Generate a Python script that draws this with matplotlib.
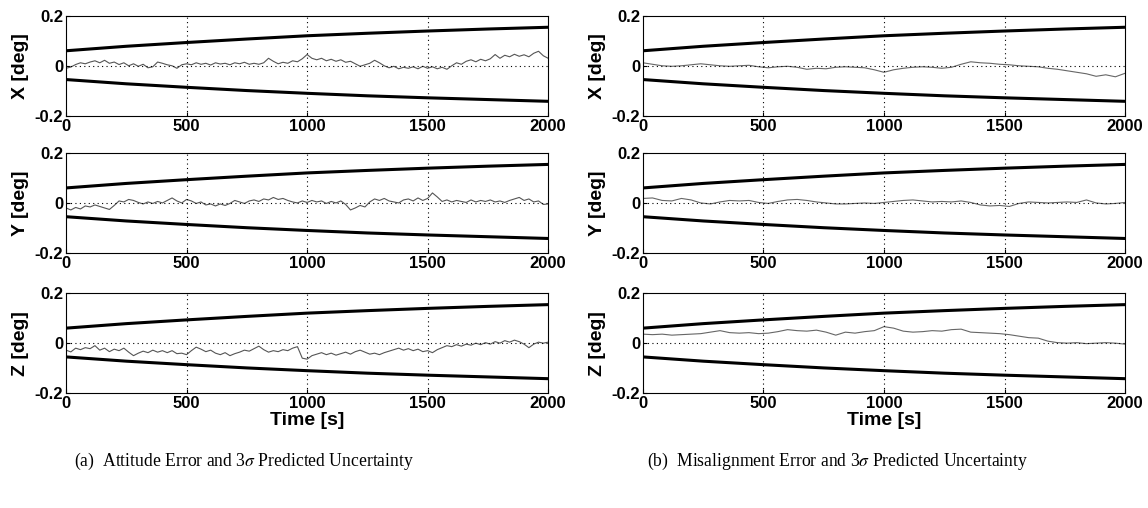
import numpy as np
import matplotlib
matplotlib.use("Agg")
import matplotlib.pyplot as plt

plt.rcParams['font.family'] = ['Liberation Sans', 'DejaVu Sans']
plt.rcParams['mathtext.fontset'] = 'stix'

# time grids (s)
t_fast = np.arange(0, 2001, 20)
t_slow = np.arange(0, 2001, 40)
t_bound = [0, 250, 500, 750, 1000, 1250, 1500, 1750, 2000]

# 3-sigma predicted bounds (deg)
sig_upper = [0.06, 0.078, 0.093, 0.107, 0.12, 0.13, 0.139, 0.147, 0.154]
sig_lower = [-0.055, -0.072, -0.086, -0.099, -0.11, -0.12, -0.128, -0.135, -0.142]

# (a) attitude error, every 20 s
att_x = [-0.01, -0.005, 0.005, 0.012, 0.008, 0.015, 0.02, 0.012, 0.022, 0.01,
         0.015, 0.005, 0.012, 0.0, 0.008, -0.002, 0.006, -0.008, -0.004, 0.015,
         0.01, 0.004, 0.0, -0.01, 0.004, 0.008, 0.004, 0.012, 0.006, 0.01,
         0.003, 0.012, 0.007, 0.01, 0.004, 0.012, 0.008, 0.014, 0.006, 0.01,
         0.006, 0.012, 0.03, 0.018, 0.008, 0.014, 0.01, 0.02, 0.016, 0.028,
         0.045, 0.03, 0.024, 0.03, 0.02, 0.026, 0.018, 0.024, 0.014, 0.018,
         0.008, -0.002, 0.004, 0.01, 0.022, 0.012, 0.0, -0.008, -0.002, -0.012,
         -0.006, -0.01, -0.004, -0.012, -0.002, -0.01, -0.004, -0.012, -0.006, -0.014,
         0.0, 0.012, 0.006, 0.018, 0.024, 0.016, 0.026, 0.02, 0.028, 0.045,
         0.03, 0.042, 0.036, 0.046, 0.038, 0.044, 0.036, 0.05, 0.058, 0.04,
         0.03]
att_y = [-0.02, -0.028, -0.018, -0.024, -0.012, -0.016, -0.008, -0.014, -0.02, -0.026,
         -0.01, 0.008, 0.004, 0.014, 0.01, 0.002, -0.004, 0.004, -0.002, 0.006,
         0.0, 0.01, 0.02, 0.008, 0.0, 0.014, 0.008, -0.002, 0.004, -0.008,
         -0.004, -0.012, -0.004, -0.01, -0.002, 0.01, 0.004, -0.002, 0.008, 0.012,
         0.006, 0.016, 0.012, 0.022, 0.014, 0.018, 0.01, 0.004, 0.0, 0.008,
         0.002, 0.01, 0.004, 0.008, -0.002, 0.006, 0.0, 0.008, -0.006, -0.028,
         -0.02, -0.01, -0.016, 0.004, 0.016, 0.01, 0.018, 0.008, 0.004, 0.0,
         0.012, 0.016, 0.008, 0.02, 0.01, 0.018, 0.04, 0.024, 0.006, 0.012,
         0.004, 0.01, 0.006, 0.002, 0.012, 0.004, 0.01, 0.006, 0.012, 0.004,
         0.008, 0.002, 0.01, 0.016, 0.022, 0.01, 0.016, 0.004, 0.008, -0.006,
         -0.004]
att_z = [-0.028, -0.035, -0.02, -0.026, -0.018, -0.022, -0.01, -0.028, -0.02, -0.034,
         -0.024, -0.03, -0.02, -0.036, -0.05, -0.04, -0.032, -0.038, -0.028, -0.036,
         -0.03, -0.038, -0.03, -0.042, -0.04, -0.046, -0.03, -0.016, -0.024, -0.034,
         -0.028, -0.04, -0.046, -0.038, -0.05, -0.042, -0.036, -0.028, -0.032, -0.022,
         -0.012, -0.026, -0.036, -0.03, -0.034, -0.026, -0.03, -0.02, -0.014, -0.06,
         -0.064, -0.05, -0.044, -0.038, -0.046, -0.04, -0.048, -0.042, -0.036, -0.044,
         -0.034, -0.028, -0.036, -0.044, -0.04, -0.046, -0.038, -0.032, -0.026, -0.02,
         -0.028, -0.022, -0.03, -0.024, -0.034, -0.03, -0.038, -0.026, -0.018, -0.01,
         -0.014, -0.006, -0.012, -0.004, -0.008, 0.0, -0.006, 0.002, -0.004, 0.006,
         0.0, 0.01, 0.004, 0.012, 0.006, -0.004, -0.018, -0.004, 0.004, 0.0,
         0.004]

# (b) misalignment error, every 40 s
mis_x = [0.012, 0.006, 0.0, -0.002, 0.0, 0.004, 0.008, 0.004, 0.0, -0.002,
         0.0, 0.002, -0.004, -0.008, -0.004, -0.002, -0.006, -0.014, -0.01, -0.012,
         -0.006, -0.004, -0.006, -0.008, -0.016, -0.026, -0.016, -0.01, -0.006, -0.004,
         -0.006, -0.01, -0.006, 0.006, 0.016, 0.012, 0.01, 0.006, 0.004, 0.0,
         -0.002, -0.004, -0.01, -0.014, -0.02, -0.026, -0.032, -0.042, -0.036, -0.044,
         -0.03]
mis_y = [0.018, 0.02, 0.01, 0.008, 0.018, 0.012, 0.0, -0.004, 0.004, 0.01,
         0.008, 0.01, 0.002, -0.002, 0.006, 0.012, 0.014, 0.01, 0.004, 0.0,
         -0.004, -0.004, -0.002, 0.0, -0.002, 0.002, 0.006, 0.01, 0.012, 0.008,
         0.004, 0.006, 0.004, 0.008, 0.002, -0.008, -0.012, -0.01, -0.014, -0.002,
         0.004, 0.002, 0.0, 0.002, 0.004, 0.002, 0.012, 0.0, -0.004, -0.002,
         0.002]
mis_z = [0.036, 0.034, 0.036, 0.032, 0.034, 0.036, 0.038, 0.044, 0.05, 0.042,
         0.04, 0.042, 0.038, 0.04, 0.046, 0.054, 0.05, 0.048, 0.052, 0.044,
         0.032, 0.044, 0.04, 0.046, 0.05, 0.066, 0.06, 0.048, 0.044, 0.046,
         0.05, 0.048, 0.054, 0.056, 0.044, 0.042, 0.04, 0.038, 0.034, 0.028,
         0.022, 0.02, 0.008, 0.002, 0.0, 0.002, -0.002, 0.0, 0.002, 0.0,
         -0.004]

axis_labels = ['X [deg]', 'Y [deg]', 'Z [deg]']
captions = [r'(a)  Attitude Error and 3$\sigma$ Predicted Uncertainty',
            r'(b)  Misalignment Error and 3$\sigma$ Predicted Uncertainty']

fig = plt.figure(figsize=(11.48, 5.08), dpi=100)

col_left = [0.0575, 0.560]
col_w = 0.42
row_y = [0.772, 0.502, 0.226]
row_h = 0.197
caption_x = [0.213, 0.730]

panels = [
    (t_fast, [att_x, att_y, att_z], '#555555', 0.8),
    (t_slow, [mis_x, mis_y, mis_z], '#666666', 0.8),
]

for c, (tt, series, col, lw) in enumerate(panels):
    for r in range(3):
        ax = fig.add_axes([col_left[c], row_y[r], col_w, row_h])
        ax.plot(tt, series[r], color=col, lw=lw)
        ax.plot(t_bound, sig_upper, color='black', lw=2.2)
        ax.plot(t_bound, sig_lower, color='black', lw=2.2)
        ax.set_xlim(0, 2000)
        ax.set_ylim(-0.2, 0.2)
        ax.set_xticks([0, 500, 1000, 1500, 2000])
        ax.set_yticks([-0.2, 0, 0.2])
        ax.set_yticklabels(['-0.2', '0', '0.2'])
        for xv in [500, 1000, 1500]:
            ax.axvline(xv, color='black', lw=0.8, ls=(0, (1, 3)))
        ax.axhline(0, color='black', lw=0.8, ls=(0, (1, 3)))
        ax.tick_params(direction='in', length=3, labelsize=12, pad=2)
        for lab in ax.get_xticklabels() + ax.get_yticklabels():
            lab.set_fontweight('bold')
        for s in ax.spines.values():
            s.set_linewidth(0.8)
        ax.set_ylabel(axis_labels[r], fontsize=14, fontweight='bold', labelpad=4)
        if r == 2:
            ax.set_xlabel('Time [s]', fontsize=14, fontweight='bold', labelpad=1)

    fig.text(caption_x[c], 0.092, captions[c],
             ha='center', va='center', fontsize=12.7, family='Liberation Serif')

fig.savefig('out.png', dpi=100)
